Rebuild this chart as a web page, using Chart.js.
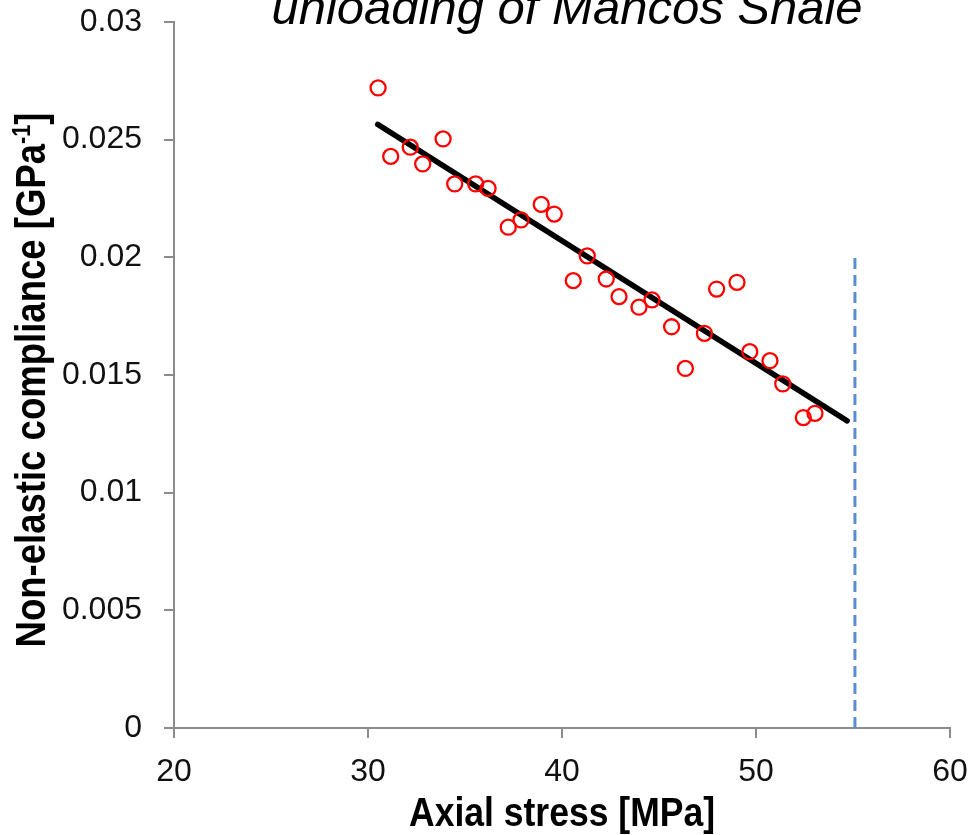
<!DOCTYPE html>
<html>
<head>
<meta charset="utf-8">
<script src="https://cdn.jsdelivr.net/npm/chart.js@4.4.1/dist/chart.umd.min.js"></script>
<style>
  html, body { margin: 0; padding: 0; background: #fff; }
</style>
</head>
<body>
<canvas id="complianceChart" width="969" height="835"></canvas>
<script>
// measured points
const stressMPa = [30.52, 31.17, 32.18, 32.82, 33.87, 34.47, 35.55, 36.19, 37.23, 37.89,
  38.93, 39.60, 40.58, 41.30, 42.28, 42.94, 43.97, 44.64, 45.65, 46.36,
  47.34, 47.97, 49.02, 49.68, 50.72, 51.38, 52.44, 53.04];
const compliance = [0.02720, 0.02429, 0.02468, 0.02397, 0.02503, 0.02312, 0.02312, 0.02293, 0.02128, 0.02159,
  0.02225, 0.02184, 0.01901, 0.02006, 0.01908, 0.01833, 0.01788, 0.01819, 0.01705, 0.01528,
  0.01677, 0.01865, 0.01894, 0.01599, 0.01561, 0.01462, 0.01319, 0.01337];

// linear fit and the dashed limit line
const fitX = [30.5, 54.7];
const fitY = [0.02565, 0.01305];
const limitX = [55.1, 55.1];
const limitY = [0, 0.02];

const xTicks = [20, 30, 40, 50, 60];
const yTicks = [0, 0.005, 0.01, 0.015, 0.02, 0.025, 0.03];

const chartTitle = 'unloading of Mancos Shale';
const xTitle = 'Axial stress [MPa]';
const yTitle = ['Non-elastic compliance [GPa', '-1', ']'];

const tickFont = { family: '"Liberation Sans", Arial, sans-serif', size: 32 };
const titleFamily = '"Liberation Sans", Arial, sans-serif';
const axisGray = '#8c8c8c';

const toPoints = (xs, ys) => xs.map((x, i) => ({ x: x, y: ys[i] }));

// italic title, partly cut off at the top
const titlePlugin = {
  id: 'topTitle',
  afterDraw(chart) {
    const ctx = chart.ctx;
    ctx.save();
    ctx.font = 'italic 49px "Liberation Sans", Arial, sans-serif';
    ctx.fillStyle = '#000';
    ctx.textAlign = 'center';
    ctx.textBaseline = 'alphabetic';
    ctx.fillText(chartTitle, 567, 24);
    ctx.restore();
  }
};

// axis titles are drawn by hand: narrow bold text and a superscript
const axisTitlesPlugin = {
  id: 'axisTitles',
  afterDraw(chart) {
    const ctx = chart.ctx;
    const area = chart.chartArea;
    ctx.save();
    ctx.fillStyle = '#000';
    ctx.textBaseline = 'alphabetic';

    // x title
    ctx.font = 'bold 40px ' + titleFamily;
    const wx = ctx.measureText(xTitle).width;
    ctx.save();
    ctx.translate((area.left + area.right) / 2, 826);
    ctx.scale(306 / wx, 1);
    ctx.textAlign = 'center';
    ctx.fillText(xTitle, 0, 0);
    ctx.restore();

    // y title with superscript
    const big = 'bold 42px ' + titleFamily;
    const small = 'bold 25px ' + titleFamily;
    ctx.textAlign = 'left';
    ctx.font = big;
    const w1 = ctx.measureText(yTitle[0]).width;
    const w3 = ctx.measureText(yTitle[2]).width;
    ctx.font = small;
    const w2 = ctx.measureText(yTitle[1]).width;
    const total = w1 + w2 + w3;
    ctx.translate(45, 380);
    ctx.rotate(-Math.PI / 2);
    ctx.scale(535 / total, 1);
    let x = -total / 2;
    ctx.font = big;
    ctx.fillText(yTitle[0], x, 0);
    x += w1;
    ctx.font = small;
    ctx.fillText(yTitle[1], x, -15);
    x += w2;
    ctx.font = big;
    ctx.fillText(yTitle[2], x, 0);
    ctx.restore();
  }
};

const ctx = document.getElementById('complianceChart').getContext('2d');
new Chart(ctx, {
  type: 'scatter',
  data: {
    datasets: [
      {
        label: 'Measured',
        data: toPoints(stressMPa, compliance),
        pointStyle: 'circle',
        pointRadius: 7.5,
        pointBorderWidth: 2.3,
        borderColor: '#ff0000',
        backgroundColor: 'rgba(0,0,0,0)',
        order: 0,
      },
      {
        label: 'Fit',
        data: toPoints(fitX, fitY),
        showLine: true,
        borderColor: '#000',
        borderWidth: 5.5,
        borderCapStyle: 'round',
        pointRadius: 0,
        order: 1,
      },
      {
        label: 'Limit',
        data: toPoints(limitX, limitY),
        showLine: true,
        borderColor: '#5b8dd0',
        borderWidth: 3,
        borderDash: [11, 6],
        pointRadius: 0,
        order: 2,
      },
    ],
  },
  options: {
    responsive: false,
    animation: false,
    devicePixelRatio: 1,
    layout: { padding: { top: 22, right: 19, left: 0, bottom: 0 } },
    plugins: {
      legend: { display: false },
      tooltip: { enabled: false },
      title: { display: false },
    },
    scales: {
      x: {
        type: 'linear',
        min: 20,
        max: 60,
        afterBuildTicks: (scale) => { scale.ticks = xTicks.map((v) => ({ value: v })); },
        ticks: { font: tickFont, color: '#111', padding: 15, maxRotation: 0 },
        grid: { drawOnChartArea: false, drawTicks: true, tickLength: 10, color: axisGray, lineWidth: 2 },
        border: { display: true, color: axisGray, width: 2 },
        afterFit: (scale) => {
          scale.height = 107;
          scale.paddingLeft = 0;
          scale.paddingRight = 0;
        },
      },
      y: {
        type: 'linear',
        min: 0,
        max: 0.03,
        afterBuildTicks: (scale) => { scale.ticks = yTicks.map((v) => ({ value: v })); },
        ticks: {
          font: tickFont,
          color: '#111',
          padding: 22,
          callback: (v) => Number(v.toFixed(3)).toString(),
        },
        grid: { drawOnChartArea: false, drawTicks: true, tickLength: 10, color: axisGray, lineWidth: 2 },
        border: { display: true, color: axisGray, width: 2 },
        afterFit: (scale) => {
          scale.width = 174;
          scale.paddingTop = 0;
          scale.paddingBottom = 0;
        },
      },
    },
  },
  plugins: [titlePlugin, axisTitlesPlugin],
});
</script>
</body>
</html>
